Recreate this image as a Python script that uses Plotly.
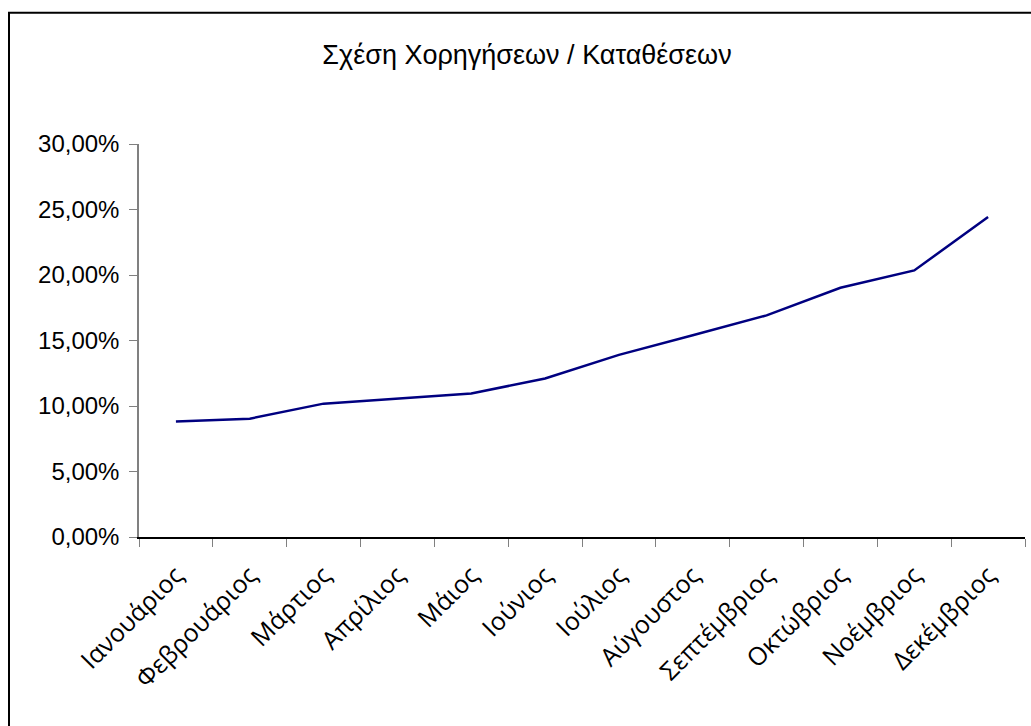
import plotly.graph_objects as go

# Monthly loans-to-deposits ratio
months = ["Ιανουάριος", "Φεβρουάριος", "Μάρτιος", "Απρίλιος", "Μάιος", "Ιούνιος",
          "Ιούλιος", "Αύγουστος", "Σεπτέμβριος", "Οκτώβριος", "Νοέμβριος", "Δεκέμβριος"]
ratio = [0.0882, 0.0903, 0.1018, 0.1057, 0.1095, 0.1210,
         0.1390, 0.1540, 0.1692, 0.1903, 0.2035, 0.2442]
y_ticks = [0.0, 0.05, 0.10, 0.15, 0.20, 0.25, 0.30]
y_tick_text = ["0,00%", "5,00%", "10,00%", "15,00%", "20,00%", "25,00%", "30,00%"]
title_text = "Σχέση Χορηγήσεων / Καταθέσεων"

W, H = 1031, 726
L, R, T, B = 139, 6, 143.5, 189
pw, ph = W - L - R, H - T - B

fig = go.Figure()
fig.add_trace(go.Scatter(
    x=months, y=ratio, mode="lines",
    line=dict(color="#000080", width=2.5),
    showlegend=False, hoverinfo="skip",
))

# Outer chart frame (left/top edges visible, rest runs off the page)
fig.add_shape(
    type="rect", xref="paper", yref="paper",
    x0=(9 - L) / pw, x1=(W + 20 - L) / pw,
    y0=-(H + 20 - T - ph) / ph, y1=(H - B - 12) / ph,
    line=dict(color="black", width=2), fillcolor="rgba(0,0,0,0)", layer="below",
)

fig.update_layout(
    width=W, height=H,
    margin=dict(l=L, r=R, t=T, b=B, autoexpand=False),
    paper_bgcolor="white", plot_bgcolor="white",
    title=dict(text=title_text, x=527 / W, xanchor="center",
               y=1 - 55 / H, yanchor="middle",
               font=dict(family="Liberation Sans, Arial", size=27, color="black")),
    xaxis=dict(
        type="category", range=[-0.5, len(months) - 0.5],
        tickson="boundaries", ticks="outside", ticklen=8,
        tickcolor="#808080", showline=True, linecolor="black", linewidth=1.5,
        showgrid=False, zeroline=False, tickangle=-45,
        tickfont=dict(family="Open Sans, Noto Sans", size=25, color="black"),
        ticklabelstandoff=12,
    ),
    yaxis=dict(
        range=[0, 0.30], tickvals=y_ticks, ticktext=y_tick_text,
        ticks="outside", ticklen=8, tickcolor="#808080",
        showline=True, linecolor="#808080", linewidth=1.5,
        showgrid=False, zeroline=False,
        tickfont=dict(family="Liberation Sans, Arial", size=24, color="black"),
        ticklabelstandoff=5,
    ),
)

fig.write_html("out.html")
